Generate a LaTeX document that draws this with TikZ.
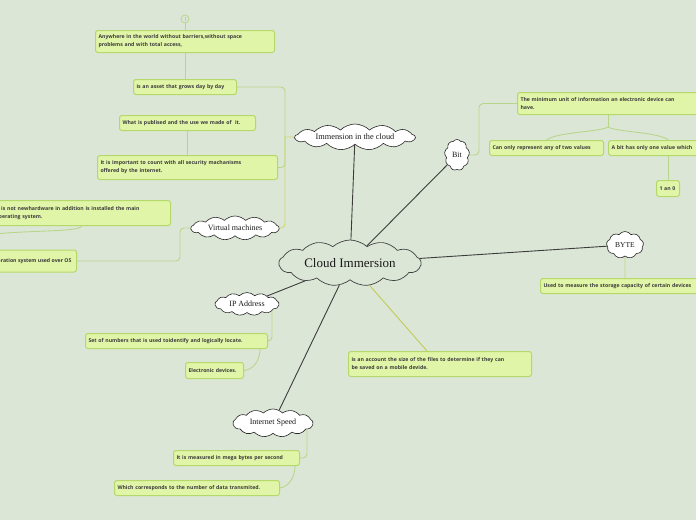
\documentclass[tikz,border=0pt]{standalone}
\usepackage{fontspec}
\setmainfont{Liberation Serif}
\newfontfamily\boxfont{Open Sans}
\usetikzlibrary{shapes.symbols,calc}
\definecolor{bgc}{HTML}{DCE6D6}
\definecolor{boxfill}{HTML}{E1F5A8}
\definecolor{boxline}{HTML}{B4D86A}
\definecolor{connc}{HTML}{B8D68A}
\definecolor{yconn}{HTML}{CDD86A}
\definecolor{mainc}{HTML}{3C3C3C}
\definecolor{txt}{HTML}{3A3A3A}
\pgfdeclarelayer{back}
\pgfdeclarelayer{lines}
\pgfsetlayers{back,lines,main}
\tikzset{
  box/.style={draw=boxline, fill=boxfill, line width=1pt, rounded corners=2.5pt,
    anchor=north west, inner xsep=3pt, inner ysep=2pt, align=left,
    font=\boxfont\bfseries\fontsize{5.2}{8}\selectfont, text=txt},
  bubble/.style={cloud, cloud puffs=13, cloud puff arc=90, cloud ignores aspect,
    draw=black!85, fill=white, line width=0.6pt, inner sep=0pt, text=black!90},
  conn/.style={draw=connc, line width=0.9pt},
  yc/.style={draw=yconn, line width=0.9pt},
  mainline/.style={draw=mainc, line width=0.9pt},
}
\begin{document}
\begin{tikzpicture}[x=1pt,y=-1pt]
\begin{pgfonlayer}{back}
\fill[bgc] (0,0) rectangle (696,520);
\end{pgfonlayer}
\useasboundingbox (0,0) rectangle (696,520);

% clouds
\node[bubble, fill=bgc, draw=black!75, line width=0.7pt, cloud puffs=13, cloud puff arc=85, minimum width=142, minimum height=46, font=\fontsize{13}{15}\selectfont] (center) at (350,263) {Cloud Immersion};
\node[bubble, minimum width=120, minimum height=26, font=\fontsize{8.3}{10}\selectfont] (imm) at (355,137) {Immension in the cloud};
\node[bubble, minimum width=88, minimum height=24, font=\fontsize{8}{10}\selectfont] (vm) at (235,228) {Virtual machines};
\node[bubble, cloud puffs=9, cloud puff arc=110, minimum width=25, minimum height=31, font=\fontsize{8}{10}\selectfont] (bit) at (457,155) {Bit};
\node[bubble, cloud puffs=9, cloud puff arc=110, minimum width=37, minimum height=27, font=\fontsize{7.5}{10}\selectfont] (byte) at (625,245) {BYTE};
\node[bubble, minimum width=64, minimum height=23, font=\fontsize{8}{10}\selectfont] (ip) at (247,304) {IP Address};
\node[bubble, minimum width=80, minimum height=28, font=\fontsize{8}{10}\selectfont] (is) at (273,423) {Internet Speed};

% boxes
\node[box, text width=173, minimum height=22] (b1) at (95,30) {Anywhere in the world without barriers,without space\\problems and with total access,};
\node[box, text width=97, minimum height=15] (b2) at (133,79) {is an asset that grows day by day};
\node[box, text width=130, minimum height=15] (b3) at (119,115) {What is publised and the use we made of\ \ it.};
\node[box, text width=174, minimum height=24] (b4) at (97,155) {It is important to count with all security machanisms\\offered by the internet.};
\node[box, text width=172, minimum height=25] (b5) at (-8,200) {It is not newhardware in addition is installed the main\\operating system.};
\node[box, anchor=east, minimum height=22, inner xsep=5pt] (b6) at (77,261) {Operation system used over OS};

\node[box, text width=176, minimum height=22] (bb1) at (517,92) {The minimum unit of information an electronic device can\\have.};
\node[box, text width=108, minimum height=15] (bb2) at (489,140) {Can only represent any of two values};
\node[box, text width=114, minimum height=15] (bb3) at (608,140) {A bit has only one value which};
\node[box, text width=17, minimum height=16] (bb4) at (656,180) {1 an 0};
\node[box, text width=180, minimum height=15] (bytebox) at (540,278) {Used to measure the storage capacity of certain devices};
\node[box, text width=176, minimum height=15] (ip1) at (85,333) {Set of numbers that is used toidentify and logically locate.};
\node[box, text width=52, minimum height=16] (ip2) at (185,362) {Electronic devices.};
\node[box, text width=120, minimum height=15] (is1) at (173,450) {It is measured in mega bytes per second};
\node[box, text width=159, minimum height=15] (is2) at (114,480) {Which corresponds to the number of data transmited.};
\node[box, text width=177, minimum height=25] (cb) at (348,351) {is an account the size of the files to determine if they can\\be saved on a mobile devide.};

% collapse marker
\node[circle, draw=connc, fill=bgc, line width=0.8pt, minimum size=8, inner sep=0pt] (mark) at (185,19) {};
\draw[connc, line width=0.6pt] ($(mark.center)+(0,-2)$) -- ($(mark.center)+(0,2)$);

% coordinates
\coordinate (jx) at (285,137);
\coordinate (vmj) at (180,228);
\coordinate (offL) at (-5,234);
\coordinate (bitj) at (479,130);
\coordinate (bbj) at (608,127);
\coordinate (cbj) at (427,351);
\coordinate (ipA) at (272,305);
\coordinate (isA) at (307,425);

\begin{pgfonlayer}{lines}
% main lines
\draw[mainline] (center) -- (imm);
\draw[mainline] (center) -- (bit);
\draw[mainline] (center) -- (byte);
\draw[mainline] (center) -- (ip);
\draw[mainline] (center) -- (is);
\draw[draw=yconn!85!olive, line width=0.9pt] (center) -- (cbj);
% immersion branch
\draw[yc] (imm.west) -- (jx);
\draw[conn, rounded corners=4] (jx) |- (b2.east);
\draw[conn, rounded corners=4] (jx) |- (b4.east);
\draw[yc, rounded corners=4] (jx) |- (vm.east);
\draw[conn] (mark) -- (b1.north);
\draw[conn] (b1.south) -- (b2.north);
\draw[conn] (b3.south) -- (b4.north);
% virtual machines
\draw[conn, rounded corners=4] (b6.east) -| (vmj) -- (vm.west);
\draw[conn] (b5.south) .. controls ($(b5.south)+(-2,6)$) and ($(offL)+(40,-4)$) .. (offL);
% bit
\draw[conn, rounded corners=4] (bit.east) -| (bitj) |- (bb1.west);
\draw[conn] (bb1.south -| bbj) -- (bbj);
\draw[conn] (bbj) .. controls ($(bbj)+(-8,5)$) and ($(bb2.north)+(10,-8)$) .. (bb2.north);
\draw[conn] (bbj) .. controls ($(bbj)+(8,5)$) and ($(bb3.north)+(-10,-8)$) .. (bb3.north);
\draw[conn] (bb3.south) -- (bb3.south |- bb4.north);
% byte
\draw[conn] (byte) -- (byte |- bytebox.north);
% ip
\draw[conn, rounded corners=4] (ipA) |- (ip1.east);
\draw[conn] (ip1.south -| 260,0) .. controls (260,362) and (252,370) .. (ip2.east);
% internet speed
\draw[conn, rounded corners=4] (isA) |- (is1.east);
\draw[conn] (is1.south -| 295,0) .. controls (295,478) and (288,487) .. (is2.east);
\end{pgfonlayer}
\end{tikzpicture}
\end{document}
